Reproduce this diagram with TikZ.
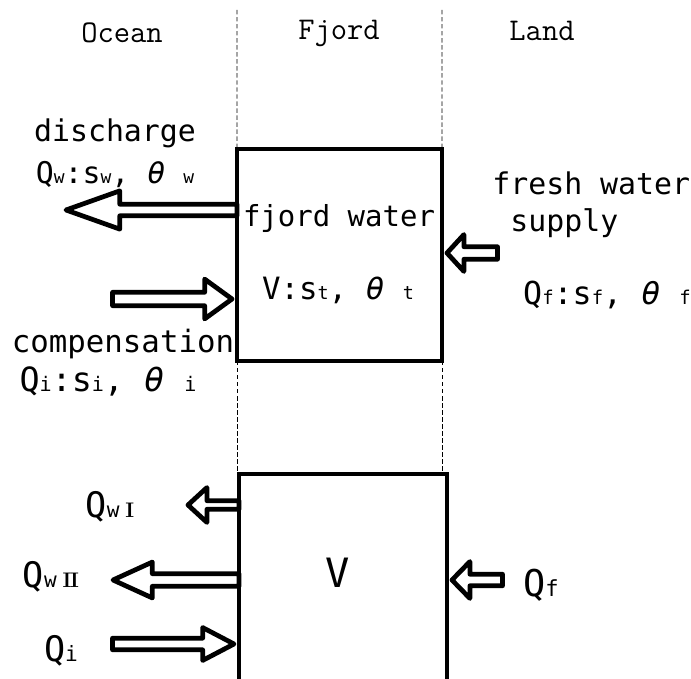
\documentclass[tikz,border=0pt]{standalone}
\usepackage{fontspec}
\usepackage{graphicx}
\newfontfamily\gothic{DejaVu Sans Mono}
\usetikzlibrary{calc}
% small index set on the baseline
\newcommand{\lowix}[1]{\scalebox{0.6}{#1}}
\newcommand{\romnum}[1]{\lowix{\rmfamily\bfseries #1}}
% hollow block arrow: tail, tip, head length, shaft half width, head half width (px)
\newcommand{\blockarrow}[5]{%
  \draw[flowarrow] let \p1=(#1), \p2=(#2), \n1={2*(\x1>\x2)-1},
      \n2={\x2+\n1*#3*0.5669pt} in
    (\x1,{\y1+#4*0.5669pt}) -- ({\n2*1pt},{\y1+#4*0.5669pt})
    -- ({\n2*1pt},{\y1+#5*0.5669pt}) -- (\x2,\y2)
    -- ({\n2*1pt},{\y1-#5*0.5669pt}) -- ({\n2*1pt},{\y1-#4*0.5669pt})
    -- (\x1,{\y1-#4*0.5669pt}) -- cycle;}

\begin{document}
\begin{tikzpicture}[
  x=0.02cm, y=-0.02cm,
  fjordbox/.style={draw, line width=2.8pt, outer sep=0pt, inner sep=0pt},
  border/.style={line width=0.45pt, dash pattern=on 2.5pt off 1.5pt, black},
  flowarrow/.style={draw, line width=2.7pt, line join=round},
  region/.style={font=\ttfamily\fontsize{18}{20}\selectfont, anchor=base, inner sep=0pt},
  txt/.style={font=\gothic\fontsize{17}{20}\selectfont, anchor=base, inner sep=0pt},
  big/.style={font=\gothic\fontsize{19}{22}\selectfont, anchor=base, inner sep=0pt}
]
  \useasboundingbox (0,0) rectangle (691,679);

  % regions
  \node[region] (ocean) at (122,43) {Ocean};
  \node[region] (fjordlab) at (339,40) {Fjord};
  \node[region] (land) at (542,41) {Land};

  % boxes
  \node[fjordbox, minimum width=4.1cm, minimum height=4.24cm] (fjord) at (339.5,255) {};
  \node[fjordbox, minimum width=4.16cm, minimum height=4.52cm] (model) at (343,587) {};

  % borders between the regions
  \coordinate (wtop) at (237,10);
  \coordinate (etop) at (442,10);
  \draw[border] (wtop) -- (fjord.north west);
  \draw[border] (etop) -- (fjord.north east);
  \draw[border] (fjord.south west) -- (fjord.south west |- model.north);
  \draw[border] (fjord.south east) -- (fjord.south east |- model.north);

  % upper box
  \node[txt, font=\gothic\fontsize{16.5}{20}\selectfont] (water) at (339,227) {fjord water};
  \node[txt, font=\gothic\fontsize{17.5}{20}\selectfont] (vol) at (338,300) {V:s\lowix{t}, \textit{θ} \lowix{t}};
  \node[txt] (dis) at (115,142) {discharge};
  \node[txt] (qw) at (115,184) {Q\lowix{w}:s\lowix{w}, \textit{θ} \lowix{w}};
  \node[txt, font=\gothic\fontsize{17.5}{20}\selectfont] (comp) at (123,353) {compensation};
  \node[big] (qi) at (108,392) {Q\lowix{i}:s\lowix{i}, \textit{θ} \lowix{i}};
  \node[txt, anchor=base west] (fresh) at (492,195) {fresh water};
  \node[txt, anchor=base west] (supply) at (510,232) {supply};
  \node[big, font=\gothic\fontsize{18}{22}\selectfont] (qf) at (607,305) {Q\lowix{f}:s\lowix{f}, \textit{θ} \lowix{f}};

  \coordinate (dis tail) at (fjord.west |- 0,210);
  \coordinate (dis tip) at (66,210);
  \coordinate (comp tail) at (112.5,299);
  \coordinate (comp tip) at ($(fjord.west |- 0,299)+(-5,0)$);
  \coordinate (fresh tail) at (497.5,253);
  \coordinate (fresh tip) at ($(fjord.east |- 0,253)+(5,0)$);
  \blockarrow{dis tail}{dis tip}{54}{5.8}{19.2}
  \blockarrow{comp tail}{comp tip}{27.5}{6.7}{20}
  \blockarrow{fresh tail}{fresh tip}{17}{6.3}{18.5}

  % lower box
  \node[big, font=\gothic\fontsize{23}{26}\selectfont] (vlow) at (338,588) {V};
  \node[big, font=\gothic\fontsize{20}{24}\selectfont] (qw1) at (110,518) {Q\lowix{w}\,\romnum{I}};
  \node[big, font=\gothic\fontsize{20}{24}\selectfont] (qw2) at (51,588) {Q\lowix{w}\,\romnum{I\kern-0.06em I}};
  \node[big, font=\gothic\fontsize{20}{24}\selectfont] (qil) at (61,662) {Q\lowix{i}};
  \node[big, font=\gothic\fontsize{21}{24}\selectfont] (qfl) at (541,597) {Q\lowix{f}};

  \coordinate (w1 tail) at (model.west |- 0,505);
  \coordinate (w1 tip) at (188,505);
  \coordinate (w2 tail) at (model.west |- 0,580);
  \coordinate (w2 tip) at (113,580);
  \coordinate (in tail) at (112.5,644);
  \coordinate (in tip) at ($(model.west |- 0,644)+(-5,0)$);
  \coordinate (f tail) at (502.5,580);
  \coordinate (f tip) at ($(model.east |- 0,580)+(5,0)$);
  \blockarrow{w1 tail}{w1 tip}{19}{4.3}{17.5}
  \blockarrow{w2 tail}{w2 tip}{39.5}{6.3}{18}
  \blockarrow{in tail}{in tip}{31.5}{5.8}{16.5}
  \blockarrow{f tail}{f tip}{18}{5.8}{18.5}
\end{tikzpicture}
\end{document}
